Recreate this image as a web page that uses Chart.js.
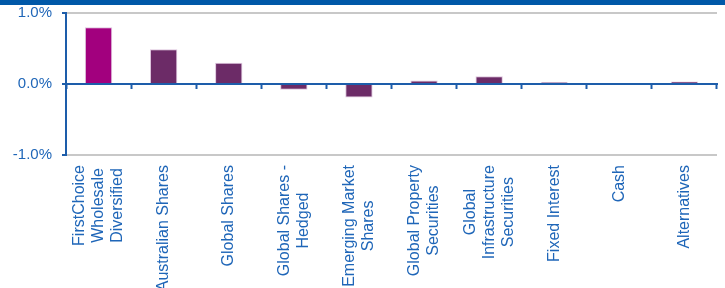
<!DOCTYPE html>
<html>
<head>
<meta charset="utf-8">
<script src="https://cdn.jsdelivr.net/npm/chart.js@4.4.1/dist/chart.umd.min.js"></script>
<style>
  html, body { margin:0; padding:0; background:#fff; }
  #wrap { position:relative; width:725px; height:288px; overflow:hidden; }
  #head { position:absolute; left:0; top:0; width:725px; height:5px; background:#0058A8; }
  canvas { position:absolute; left:0; top:0; }
</style>
</head>
<body>
<div id="wrap">
  <canvas id="c" width="725" height="288"></canvas>
  <div id="head"></div>
</div>
<script>
// categories (multi-line labels as drawn)
const categories = [
	['FirstChoice', 'Wholesale', 'Diversified'],
	['Australian Shares'],
	['Global Shares'],
	['Global Shares -', 'Hedged'],
	['Emerging Market', 'Shares'],
	['Global Property', 'Securities'],
	['Global', 'Infrastructure', 'Securities'],
	['Fixed Interest'],
	['Cash'],
	['Alternatives'],
]
// returns in %
const returns = [0.80, 0.49, 0.30, -0.08, -0.19, 0.05, 0.11, 0.025, 0.015, 0.035]
const barColors = ['#A2007E', '#6C2B67', '#6C2B67', '#6C2B67', '#6C2B67', '#6C2B67', '#6C2B67', '#6C2B67', '#8A5A88', '#6C2B67']
const yTicks = [-1, 0, 1]

const blue = '#1F66B8'
const axisBlue = '#1D5DAA'

// draws the category labels vertically, lines centred on the tick
const catLabels = {
	id: 'catLabels',
	afterDraw(chart) {
		const ctx = chart.ctx
		const x = chart.scales.x
		const top = 165
		const lh = 19
		ctx.save()
		ctx.font = '16px "Liberation Sans", Arial, sans-serif'
		ctx.fillStyle = blue
		ctx.textAlign = 'center'
		ctx.textBaseline = 'middle'
		categories.forEach((lines, i) => {
			const px = x.getPixelForValue(i)
			const w = Math.max(...lines.map(l => ctx.measureText(l).width))
			lines.forEach((l, j) => {
				ctx.save()
				ctx.translate(px + (j - (lines.length - 1) / 2) * lh, top + w / 2)
				ctx.rotate(-Math.PI / 2)
				ctx.fillText(l, 0, 0)
				ctx.restore()
			})
		})
		ctx.restore()
	}
}

new Chart(document.getElementById('c'), {
	type: 'bar',
	data: {
		labels: categories.map(a => a.join(' ')),
		datasets: [{
			data: returns,
			backgroundColor: barColors,
			borderColor: 'rgba(190,140,190,0.5)',
			borderWidth: 1,
			barPercentage: 0.42,
			categoryPercentage: 1,
		}]
	},
	plugins: [catLabels],
	options: {
		responsive: false,
		animation: false,
		layout: { padding: { left: 0, right: 8, top: 0, bottom: 133 } },
		plugins: {
			legend: { display: false },
			tooltip: { enabled: false },
		},
		scales: {
			x: {
				position: { y: 0 },
				ticks: { display: false },
				grid: {
					offset: true,
					drawOnChartArea: false,
					drawTicks: true,
					tickLength: 4,
					tickColor: axisBlue,
					tickWidth: 2,
				},
				border: { color: axisBlue, width: 2 },
			},
			y: {
				min: -1,
				max: 1,
				afterBuildTicks: s => { s.ticks = yTicks.map(v => ({ value: v })) },
				afterFit: s => { s.width = 66; s.paddingTop = 13; s.paddingBottom = 0 },
				ticks: {
					color: blue,
					padding: 10,
					font: { family: '"Liberation Sans", Arial, sans-serif', size: 15, lineHeight: 1 },
					callback: v => v.toFixed(1) + '%',
				},
				grid: {
					color: c => c.tick && c.tick.value === 0 ? 'rgba(0,0,0,0)' : '#C8C8C8',
					lineWidth: 2,
					tickLength: 4,
					tickColor: axisBlue,
					tickWidth: 2,
				},
				border: { color: axisBlue, width: 2 },
			}
		}
	}
})
</script>
</body>
</html>
